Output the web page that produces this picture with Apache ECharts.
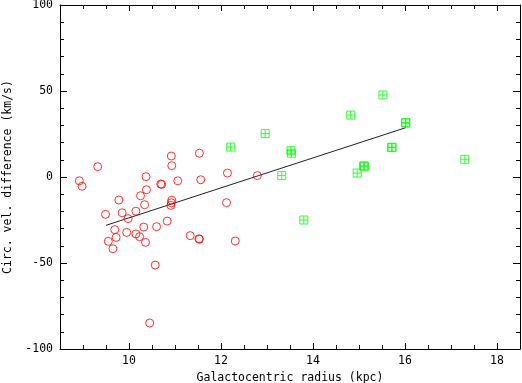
<!DOCTYPE html>
<html>
<head>
<meta charset="utf-8">
<script src="https://cdn.jsdelivr.net/npm/echarts@6/dist/echarts.min.js"></script>
<style>
  html, body { margin: 0; padding: 0; background: #fff; }
  #chart { width: 522px; height: 383px; }
</style>
</head>
<body>
<div id="chart"></div>
<script>
// inner sample (red circles)
const redRadius = [8.92, 8.98, 9.32, 10.92, 10.93, 11.53, 10.37, 10.69, 10.71, 11.06, 11.56,
  10.38, 10.25, 9.78, 10.34, 10.93, 10.91, 10.92, 9.49, 9.85, 10.15, 9.98, 10.83, 10.60, 10.32,
  9.69, 9.95, 10.15, 10.23, 9.72, 9.55, 10.36, 11.33, 11.52, 11.53, 9.65, 10.57, 10.45, 12.31,
  12.14, 12.79, 12.12]
const redDiff = [-2.2, -5.4, 6.0, 12.2, 6.6, 13.8, 0.2, -4.1, -4.3, -2.2, -1.6,
  -7.4, -10.9, -13.4, -16.1, -13.5, -16.5, -15.0, -21.7, -20.8, -19.9, -24.2, -25.6, -28.9, -29.1,
  -30.6, -32.2, -33.1, -34.7, -35.1, -37.4, -38.0, -34.1, -35.9, -36.2, -41.7, -51.2, -84.9, -37.2,
  2.3, 0.8, -14.9]

// outer sample (green boxed crosses)
const greenRadius = [12.21, 12.96, 13.32, 13.52, 13.53, 13.80, 14.82, 15.52, 14.96, 15.12, 15.10,
  15.72, 15.71, 16.02, 16.01, 17.30]
const greenDiff = [17.4, 25.2, 0.8, 15.3, 13.8, -25.0, 36.0, 47.7, 2.3, 6.2, 6.5,
  17.3, 17.1, 31.4, 31.6, 10.3]

// linear fit
const fitRadius = [9.5, 16.02]
const fitDiff = [-28.1, 28.7]

const xMajor = [10, 12, 14, 16, 18]
const xMinor = [9, 9.5, 10.5, 11, 11.5, 12.5, 13, 13.5, 14.5, 15, 15.5, 16.5, 17, 17.5, 18]
const yMajor = [-100, -50, 0, 50, 100]
const yMinor = [-90, -80, -70, -60, -40, -30, -20, -10, 10, 20, 30, 40, 60, 70, 80, 90]

const font = 'DejaVu Sans Mono'
const ink = '#000'
const boxCross = 'path://M0,0L10,0L10,10L0,10ZM5,0L5,10M0,5L10,5'

function axis(dim, position, ticks, len, opts) {
  const range = dim === 'x' ? { min: 8.5, max: 18.5 } : { min: -100, max: 100 }
  return Object.assign({
    type: 'value',
    position,
    ...range,
    axisLine: { show: true, onZero: false, lineStyle: { color: ink, width: 1 } },
    axisTick: { show: true, inside: true, length: len, customValues: ticks, lineStyle: { color: ink, width: 1 } },
    axisLabel: { show: false },
    splitLine: { show: false },
  }, opts || {})
}

const labelStyle = { show: true, fontFamily: font, fontSize: 11.5, color: ink }

const chart = echarts.init(document.getElementById('chart'))
chart.setOption({
  backgroundColor: '#fff',
  animation: false,
  grid: { left: 60, right: 2, top: 5, bottom: 34, containLabel: false, outerBoundsMode: 'none' },
  xAxis: [
    axis('x', 'bottom', xMajor, 6, {
      axisLabel: { ...labelStyle, customValues: xMajor, margin: 6 },
      name: 'Galactocentric radius (kpc)',
      nameLocation: 'middle',
      nameGap: 20,
      nameTextStyle: { fontFamily: font, fontSize: 11.5, color: ink },
    }),
    axis('x', 'bottom', xMinor, 4, { axisLine: { show: false, onZero: false } }),
    axis('x', 'top', xMajor, 6),
    axis('x', 'top', xMinor, 4, { axisLine: { show: false, onZero: false } }),
  ],
  yAxis: [
    axis('y', 'left', yMajor, 7, {
      axisLabel: { ...labelStyle, customValues: yMajor, margin: 7 },
      name: 'Circ. vel. difference (km/s)',
      nameLocation: 'middle',
      nameGap: 46,
      nameTextStyle: { fontFamily: font, fontSize: 11.5, color: ink },
    }),
    axis('y', 'left', yMinor, 4, { axisLine: { show: false, onZero: false } }),
    axis('y', 'right', yMajor, 7),
    axis('y', 'right', yMinor, 4, { axisLine: { show: false, onZero: false } }),
  ],
  series: [
    {
      type: 'line',
      data: fitRadius.map((r, i) => [r, fitDiff[i]]),
      showSymbol: false,
      lineStyle: { color: '#222', width: 1 },
      z: 1,
    },
    {
      type: 'scatter',
      data: redRadius.map((r, i) => [r, redDiff[i]]),
      symbol: 'circle',
      symbolSize: 8,
      itemStyle: { color: 'rgba(0,0,0,0)', borderColor: '#ff0000', borderWidth: 1 },
      z: 2,
    },
    {
      type: 'scatter',
      data: greenRadius.map((r, i) => [r, greenDiff[i]]),
      symbol: boxCross,
      symbolSize: 8,
      itemStyle: { color: 'rgba(0,0,0,0)', borderColor: '#00ff00', borderWidth: 1 },
      z: 2,
    },
  ],
})
</script>
</body>
</html>
